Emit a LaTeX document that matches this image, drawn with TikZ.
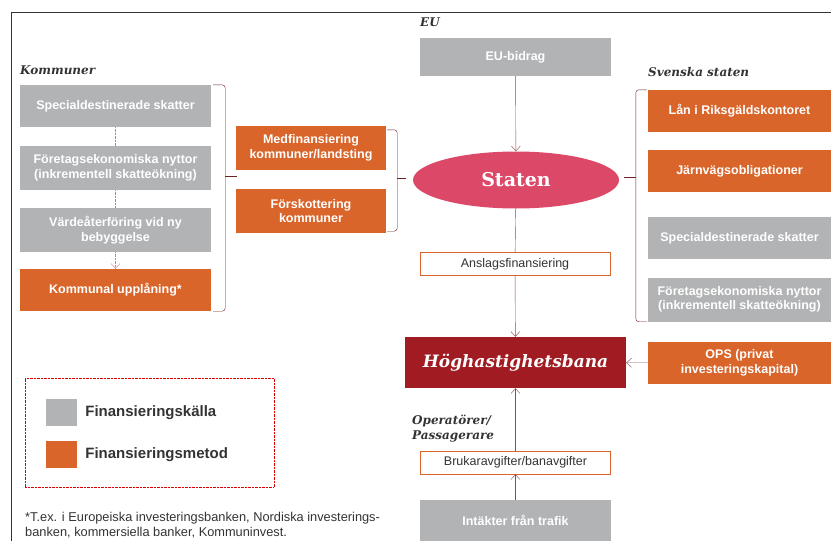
\documentclass[tikz,border=0pt]{standalone}
\usepackage{fontspec}
\setmainfont{Liberation Sans}
\newfontfamily\rubrik{DejaVu Serif}
\usepackage{tikz}
\usetikzlibrary{decorations.pathreplacing,shapes,arrows,arrows.meta,positioning}
\definecolor{kallcol}{HTML}{B2B3B5}
\definecolor{metodcol}{HTML}{D9652A}
\definecolor{statcol}{HTML}{DC4868}
\definecolor{banacol}{HTML}{A01C22}
\definecolor{pilcol}{HTML}{8B4B4B}
\definecolor{klammer}{HTML}{6E2222}
\definecolor{rosa}{HTML}{E2738A}
\definecolor{mork}{HTML}{333333}

\tikzset{
  ruta/.style={text=white, font=\bfseries\fontsize{12.5}{14.5}\selectfont, align=center, inner sep=0pt, minimum width=191pt},
  kallbox/.style={ruta, fill=kallcol},
  metbox/.style={ruta, fill=metodcol},
  vitbox/.style={draw=metodcol, fill=white, text=mork, font=\fontsize{12.5}{14}\selectfont, inner sep=0pt, minimum width=190pt, minimum height=23pt},
  rubr/.style={font=\rubrik\bfseries\itshape\fontsize{12}{15}\selectfont, text=mork, anchor=west, inner sep=0pt, align=left},
  spets/.style={-{Straight Barb[length=5pt,width=9pt]}},
  pil/.style={pilcol, thin, spets},
  klam/.style={klammer, thin, rounded corners=3pt},
}

\begin{document}
\begin{tikzpicture}[x=1pt,y=-1pt]
\useasboundingbox (0,0) rectangle (831,541);
\draw[mork, line width=0.8pt] (11,541) -- (11,12) -- (831,12);

\node[rubr] (kommuner) at (20,70) {Kommuner};
\node[rubr] (eulabel) at (420,22) {EU};
\node[rubr] (svenska) at (648,72) {Svenska staten};
\node[rubr] (operator) at (412,429) {Operatörer/\\Passagerare};

\node[kallbox, minimum height=42pt] (k1) at (115.5,106) {Specialdestinerade skatter};
\node[kallbox, minimum height=44pt] (k2) at (115.5,168) {Företagsekonomiska nyttor\\(inkrementell skatteökning)};
\node[kallbox, minimum height=44pt] (k3) at (115.5,230) {Värdeåterföring vid ny\\bebyggelse};
\node[metbox, minimum height=42pt] (k4) at (115.5,290) {Kommunal upplåning*};
\draw[rosa, densely dotted] (k1) -- (k2);
\draw[rosa, densely dotted] (k2) -- (k3);
\draw[rosa, densely dotted, spets] (k3) -- (k4);

\node[metbox, minimum width=150pt, minimum height=44pt] (m1) at (311,148) {Medfinansiering\\kommuner/landsting};
\node[metbox, minimum width=150pt, minimum height=44pt] (m2) at (311,211) {Förskottering\\kommuner};

\node[kallbox, minimum height=38pt] (eu) at (515.5,57) {EU-bidrag};
\node[ellipse, fill=statcol, text=white, minimum width=206pt, minimum height=57pt, inner sep=0pt, font=\rubrik\bfseries\fontsize{19}{22}\selectfont] (staten) at (516,180) {Staten};
\node[vitbox] (ansl) at (515,264) {Anslagsfinansiering};
\node[fill=banacol, text=white, minimum width=221pt, minimum height=51pt, inner sep=0pt, font=\rubrik\bfseries\itshape\fontsize{17}{20}\selectfont] (bana) at (515.5,362.5) {Höghastighetsbana};
\node[vitbox] (bruk) at (515.5,462.5) {Brukaravgifter/banavgifter};
\node[kallbox, minimum height=41pt] (intakt) at (515.5,520.5) {Intäkter från trafik};

\node[metbox, minimum width=183pt, minimum height=42pt] (s1) at (739.5,111) {Lån i Riksgäldskontoret};
\node[metbox, minimum width=183pt, minimum height=42pt] (s2) at (739.5,171) {Järnvägsobligationer};
\node[kallbox, minimum width=183pt, minimum height=42pt] (s3) at (739.5,238) {Specialdestinerade skatter};
\node[kallbox, minimum width=183pt, minimum height=44pt] (s4) at (739.5,299.5) {Företagsekonomiska nyttor\\(inkrementell skatteökning)};
\node[metbox, minimum width=183pt, minimum height=42pt] (ops) at (739.5,363) {OPS (privat\\investeringskapital)};

\draw[pil] (eu) -- (staten);
\draw[pilcol, thin] (staten) -- (ansl);
\draw[pil] (ansl) -- (bana);
\draw[pil] (ops) -- (bana);
\draw[pil] (intakt) -- (bruk);
\draw[pil] (bruk) -- (bana);

\draw[klam] ([xshift=2pt]k1.north east) -- ++(12,0) |- ([xshift=2pt]k4.south east);
\draw[klammer, thin] (225,176.5) -- (237,176.5);
\draw[klam] ([xshift=1pt,yshift=-4pt]m1.north east) -- ++(10,0) |- ([xshift=1pt,yshift=2pt]m2.south east);
\draw[klammer, thin] (397,178) -- (406,178);
\draw[klam] ([xshift=-1pt]s1.north west) -- ++(-11,0) |- ([xshift=-1pt]s4.south west);
\draw[klammer, thin] (636,177) -- (624,177);

\node[draw=red!85!black, densely dotted, minimum width=249pt, minimum height=109pt, inner sep=0pt] (legend) at (149.5,432.5) {};
\node[fill=kallcol, minimum width=31pt, minimum height=27pt, inner sep=0pt] (lk) at (61.5,412.5) {};
\node[fill=metodcol, minimum width=31pt, minimum height=27pt, inner sep=0pt] (lm) at (61.5,454.5) {};
\node[right=8pt of lk, inner sep=0pt, text=mork, font=\bfseries\fontsize{15}{17}\selectfont] (lktext) {Finansieringskälla};
\node[right=8pt of lm, inner sep=0pt, text=mork, font=\bfseries\fontsize{15}{17}\selectfont] (lmtext) {Finansieringsmetod};

\node[anchor=west, align=left, inner sep=0pt, text=mork, font=\fontsize{12.8}{15}\selectfont] (fotnot) at (25,525) {*T.ex. i Europeiska investeringsbanken, Nordiska investerings-\\banken, kommersiella banker, Kommuninvest.};
\end{tikzpicture}
\end{document}
